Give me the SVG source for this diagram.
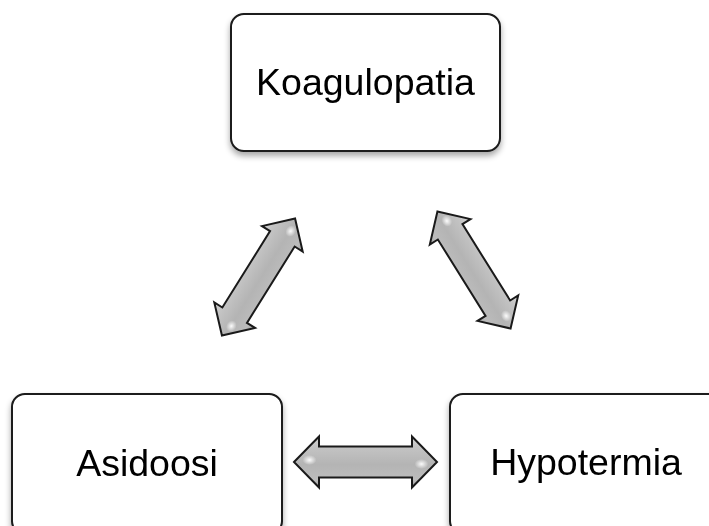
<svg xmlns="http://www.w3.org/2000/svg" width="709" height="526" viewBox="0 0 709 526">
  <defs>
    <filter id="shadow" x="-10%" y="-10%" width="120%" height="130%">
      <feGaussianBlur in="SourceAlpha" stdDeviation="3"/>
      <feOffset dx="0" dy="4" result="b"/>
      <feComponentTransfer><feFuncA type="linear" slope="0.35"/></feComponentTransfer>
      <feMerge><feMergeNode/><feMergeNode in="SourceGraphic"/></feMerge>
    </filter>
    <linearGradient id="grad" x1="0" y1="0" x2="0" y2="1">
      <stop offset="0" stop-color="#d6d6d6"/>
      <stop offset="0.2" stop-color="#c4c4c4"/>
      <stop offset="0.55" stop-color="#b4b4b4"/>
      <stop offset="0.85" stop-color="#bcbcbc"/>
      <stop offset="1" stop-color="#9c9c9c"/>
    </linearGradient>
    <radialGradient id="hl" cx="0.5" cy="0.5" r="0.5">
      <stop offset="0" stop-color="#ffffff" stop-opacity="0.95"/>
      <stop offset="1" stop-color="#ffffff" stop-opacity="0"/>
    </radialGradient>
  </defs>
  <style>
    .box { fill: #ffffff; stroke: #1a1a1a; stroke-width: 2; }
    .lbl { font-family: "Liberation Sans", Arial, sans-serif; font-size: 37.5px; fill: #000; text-anchor: middle; }
    .arr { fill: url(#grad); stroke: #1a1a1a; stroke-width: 2; stroke-linejoin: miter; }
    .hl { fill: url(#hl); }
  </style>
  <rect width="709" height="526" fill="#ffffff"/>

  <g id="node-koagulopatia" filter="url(#shadow)">
    <rect class="box" x="231" y="14" width="269" height="137" rx="13"/>
    <text class="lbl" x="365.5" y="95">Koagulopatia</text>
  </g>
  <g id="node-asidoosi" filter="url(#shadow)">
    <rect class="box" x="12" y="394" width="270" height="140" rx="13"/>
    <text class="lbl" x="147" y="476">Asidoosi</text>
  </g>
  <g id="node-hypotermia" filter="url(#shadow)">
    <rect class="box" x="450" y="394" width="275" height="140" rx="13"/>
    <text class="lbl" x="586" y="475">Hypotermia</text>
  </g>

  <g id="connectors">
    <g transform="translate(258.5,277) rotate(-58)">
      <polygon class="arr" points="-69,0 -45,-24 -45,-14.5 45,-14.5 45,-24 69,0 45,24 45,14.5 -45,14.5 -45,24"/>
      <ellipse class="hl" cx="-56" cy="3" rx="6" ry="5"/>
      <ellipse class="hl" cx="56" cy="3" rx="6" ry="5"/>
    </g>
    <g transform="translate(474,270) rotate(58)">
      <polygon class="arr" points="-69,0 -45,-24 -45,-14.5 45,-14.5 45,-24 69,0 45,24 45,14.5 -45,14.5 -45,24"/>
      <ellipse class="hl" cx="-56" cy="-3" rx="6" ry="5"/>
      <ellipse class="hl" cx="56" cy="-3" rx="6" ry="5"/>
    </g>
    <g transform="translate(365.5,462)">
      <polygon class="arr" points="-71.5,0 -46.5,-25.5 -46.5,-15.5 46.5,-15.5 46.5,-25.5 71.5,0 46.5,25.5 46.5,15.5 -46.5,15.5 -46.5,25.5"/>
      <ellipse class="hl" cx="-56" cy="-2" rx="7" ry="5"/>
      <ellipse class="hl" cx="56" cy="2" rx="7" ry="5"/>
    </g>
  </g>
</svg>
